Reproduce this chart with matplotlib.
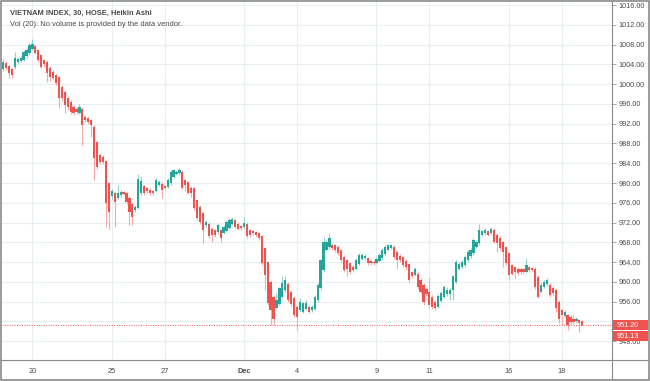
import matplotlib
matplotlib.use('Agg')
import matplotlib.pyplot as plt
import matplotlib.transforms as mtransforms
from matplotlib.lines import Line2D
from matplotlib.patches import Rectangle


# Heikin Ashi 30-minute bars, VN-Index, 19 Nov - 18 Dec
ha_open = [
    1003.0, 1004.2, 1003.6, 1003.0, 1003.4, 1004.4, 1004.7, 1004.9, 1005.6, 1006.2,
    1007.1, 1007.7, 1006.9, 1005.8, 1004.8, 1004.5, 1003.3, 1002.5, 1001.8, 1001.4,
    999.4, 998.4, 997.2, 996.4, 995.4, 995.0, 994.2, 995.0, 993.4, 993.1,
    992.7, 991.4, 988.2, 985.7, 985.3, 984.4, 980.0, 977.3, 978.0, 977.0,
    977.5, 978.1, 977.9, 977.0, 975.8, 974.5, 975.0, 978.0, 979.3, 978.9,
    978.6, 978.3, 978.4, 979.6, 979.9, 979.4, 979.2, 980.0, 981.3, 981.9,
    982.0, 982.3, 980.6, 980.2, 979.0, 978.9, 976.5, 975.2, 973.9, 971.5,
    971.8, 970.8, 970.5, 970.0, 970.5, 969.9, 970.3, 971.0, 971.8, 972.5,
    971.8, 971.3, 971.1, 971.8, 970.5, 970.2, 970.0, 969.8, 969.2, 966.8,
    964.0, 960.0, 957.0, 954.8, 955.6, 957.0, 958.3, 959.6, 958.0, 956.8,
    955.0, 954.3, 954.0, 954.6, 955.0, 954.3, 954.6, 956.3, 958.7, 962.4,
    966.5, 967.0, 967.5, 967.4, 967.1, 966.4, 965.1, 964.4, 963.8, 963.1,
    962.7, 963.7, 964.7, 964.8, 964.8, 964.3, 964.1, 963.9, 964.3, 964.8,
    965.6, 966.5, 966.9, 967.1, 966.1, 965.3, 965.0, 964.3, 963.6, 962.0,
    961.5, 961.7, 960.4, 959.4, 958.5, 958.0, 957.0, 956.0, 955.0, 956.2,
    957.0, 957.5, 957.6, 958.4, 960.0, 962.7, 963.0, 963.4, 964.4, 965.2,
    965.8, 967.1, 967.8, 969.5, 969.8, 970.2, 969.8, 970.5, 969.5, 968.9,
    968.0, 967.0, 965.8, 963.4, 963.0, 962.7, 962.6, 962.6, 962.1, 963.0,
    962.8, 962.7, 961.0, 958.0, 959.0, 959.5, 959.4, 958.8, 958.4, 956.0,
    954.3, 953.1, 953.3, 953.0, 952.5, 952.0, 952.3, 952.0,
]
ha_close = [
    1004.5, 1003.2, 1002.2, 1001.9, 1005.2, 1005.0, 1005.3, 1006.5, 1006.9, 1007.9,
    1008.2, 1006.3, 1004.9, 1003.5, 1004.1, 1002.2, 1001.5, 1001.2, 1000.2, 997.1,
    997.1, 995.8, 995.4, 994.4, 994.1, 994.4, 995.4, 991.7, 992.7, 992.4,
    991.7, 985.0, 983.3, 984.3, 984.3, 975.9, 974.2, 978.3, 976.2, 978.0,
    978.1, 977.8, 976.2, 974.2, 973.2, 975.1, 980.8, 980.5, 978.0, 978.3,
    977.9, 978.0, 980.6, 980.2, 978.6, 979.0, 980.6, 982.3, 982.6, 982.3,
    982.6, 979.0, 979.5, 978.0, 978.0, 974.9, 972.9, 972.2, 970.5, 972.2,
    969.2, 969.5, 969.5, 971.5, 968.8, 971.2, 972.2, 972.5, 972.7, 971.2,
    970.8, 970.9, 972.0, 969.2, 969.5, 969.8, 969.5, 968.8, 963.8, 961.4,
    955.7, 954.3, 952.6, 956.3, 958.7, 959.7, 960.4, 956.3, 955.6, 953.3,
    953.0, 956.0, 955.7, 955.7, 954.0, 955.0, 957.0, 959.4, 964.4, 968.1,
    968.1, 968.8, 966.8, 966.4, 965.8, 964.4, 962.4, 962.7, 962.1, 962.4,
    964.4, 965.4, 965.4, 965.3, 963.8, 963.8, 963.8, 964.6, 965.4, 966.5,
    967.1, 967.5, 967.4, 965.1, 964.4, 964.5, 963.4, 963.0, 960.4, 961.1,
    962.7, 959.0, 958.0, 956.0, 957.5, 955.3, 955.0, 954.7, 957.2, 957.7,
    959.0, 958.4, 958.4, 961.1, 964.0, 963.7, 964.1, 965.1, 966.1, 966.5,
    968.5, 968.1, 970.5, 970.2, 970.5, 969.5, 970.8, 968.1, 967.8, 966.8,
    966.1, 963.8, 961.4, 961.7, 962.1, 961.9, 962.0, 962.0, 963.4, 962.4,
    962.4, 959.0, 957.0, 959.4, 960.0, 960.4, 957.4, 957.7, 954.7, 952.6,
    953.3, 953.9, 951.3, 951.8, 951.9, 952.6, 951.6, 951.3,
]
ha_high = [
    1005.0, 1004.6, 1003.9, 1003.3, 1006.4, 1005.4, 1005.6, 1006.8, 1007.3, 1008.3,
    1009.1, 1008.0, 1007.2, 1006.1, 1005.1, 1004.8, 1003.6, 1002.8, 1002.1, 1001.7,
    999.8, 998.8, 997.5, 996.7, 995.7, 995.4, 995.9, 995.3, 993.7, 993.4,
    993.0, 991.7, 988.5, 986.0, 985.6, 984.7, 980.3, 978.8, 978.4, 979.6,
    978.5, 978.4, 978.2, 977.3, 976.1, 975.5, 981.9, 981.5, 979.6, 979.2,
    978.9, 978.6, 981.0, 980.6, 980.2, 979.7, 981.0, 982.7, 982.8, 982.6,
    983.0, 982.6, 980.9, 980.5, 979.3, 979.2, 976.8, 975.5, 974.2, 972.6,
    972.1, 971.1, 970.8, 971.9, 970.8, 971.6, 972.6, 972.9, 972.9, 972.8,
    972.1, 971.6, 973.1, 972.1, 970.8, 970.5, 970.3, 970.1, 969.5, 967.1,
    964.3, 960.3, 957.3, 957.7, 958.9, 961.1, 961.1, 959.9, 958.3, 957.1,
    955.3, 956.7, 956.0, 956.4, 955.3, 955.4, 957.4, 959.7, 964.7, 969.1,
    968.5, 969.7, 967.8, 967.7, 967.4, 966.7, 965.4, 964.7, 964.1, 963.4,
    964.8, 965.8, 965.8, 965.7, 965.1, 964.6, 964.4, 965.0, 965.8, 966.9,
    967.5, 967.7, 967.7, 967.4, 966.4, 965.6, 965.3, 964.6, 963.9, 962.3,
    963.1, 962.0, 960.7, 959.7, 958.8, 960.7, 957.3, 956.3, 957.6, 958.1,
    959.4, 959.0, 958.8, 961.5, 964.4, 964.1, 964.5, 965.5, 966.5, 966.9,
    968.9, 968.5, 971.8, 970.6, 970.9, 970.5, 971.2, 971.0, 969.8, 969.2,
    968.3, 967.3, 966.1, 963.7, 963.3, 963.0, 962.9, 962.9, 964.9, 963.3,
    963.1, 963.0, 961.3, 959.8, 960.4, 960.8, 959.7, 959.1, 958.7, 956.3,
    954.6, 954.3, 953.6, 953.3, 953.3, 953.0, 952.6, 952.3,
]
ha_low = [
    1002.6, 1002.9, 1001.2, 1001.2, 1003.0, 1004.1, 1004.4, 1004.6, 1005.3, 1005.9,
    1006.8, 1006.0, 1004.5, 1003.2, 1003.4, 1000.5, 1000.6, 1000.8, 999.8, 995.1,
    996.6, 994.1, 994.8, 994.0, 993.8, 994.0, 993.9, 987.7, 992.3, 992.0,
    989.4, 980.6, 982.8, 983.9, 983.9, 971.2, 970.8, 976.8, 971.2, 976.7,
    977.2, 977.5, 975.8, 971.5, 971.5, 974.1, 974.7, 977.6, 977.6, 977.9,
    977.5, 977.6, 978.1, 979.3, 976.9, 978.7, 978.9, 979.7, 981.0, 981.6,
    981.7, 978.7, 978.3, 977.7, 977.2, 974.5, 972.5, 971.8, 967.8, 971.2,
    968.8, 968.1, 969.1, 969.7, 968.0, 969.6, 970.0, 970.7, 971.5, 970.9,
    970.4, 970.6, 970.8, 968.8, 969.1, 969.5, 969.1, 968.4, 963.4, 958.4,
    955.3, 951.3, 951.3, 954.5, 955.3, 956.7, 958.0, 955.9, 955.2, 952.9,
    950.3, 954.0, 953.7, 954.3, 953.7, 954.0, 954.3, 956.0, 958.4, 962.1,
    966.2, 966.7, 966.4, 966.0, 965.4, 964.0, 962.0, 961.1, 961.7, 962.0,
    962.4, 963.4, 964.4, 964.5, 963.4, 963.4, 963.4, 963.6, 964.0, 964.5,
    965.3, 966.2, 966.6, 964.7, 962.7, 964.1, 963.0, 962.4, 960.0, 960.7,
    961.2, 958.6, 957.6, 955.3, 957.1, 954.9, 954.6, 954.3, 954.7, 955.9,
    956.7, 957.2, 956.3, 956.3, 959.7, 962.4, 962.7, 963.1, 964.1, 964.9,
    965.5, 966.8, 967.5, 969.2, 969.5, 969.2, 969.5, 967.8, 966.1, 966.4,
    963.1, 963.4, 960.4, 961.3, 960.7, 961.5, 961.7, 961.7, 961.8, 962.1,
    962.1, 958.6, 956.7, 957.7, 958.7, 959.2, 957.0, 957.3, 954.0, 951.6,
    951.3, 952.8, 950.3, 951.4, 951.5, 951.7, 949.9, 951.0,
]

# first bar of each labelled day
day_ticks = [10, 37, 55, 82, 100, 127, 145, 172, 190]
day_labels = ['20', '25', '27', 'Dec', '4', '9', '11', '16', '18']

price_ticks = list(range(948, 1017, 4))
last_price = 951.20
last_ha_close = 951.13

UP = '#26a69a'
DOWN = '#ef5350'
UP_WICK = '#93d2ca'
DOWN_WICK = '#f6a9a8'
TEXT = '#4a4a4a'
GRID = '#e9eef3'
FRAME = '#8a8a8a'

W, H = 650, 381
PX_PER_UNIT = 4.945      # vertical scale of the chart, pixels per index point


def main():
    plt.rcParams['font.family'] = ['Liberation Sans', 'DejaVu Sans']

    fig = plt.figure(figsize=(W / 100, H / 100), dpi=100)
    fig.patch.set_facecolor('white')

    # plot area in pixels: x 2..612, y 1..360 from top
    ax = fig.add_axes([2 / W, (H - 360) / H, 610 / W, 359 / H])
    ax.set_facecolor('white')

    for i in range(len(ha_open)):
        o, c = ha_open[i], ha_close[i]
        up = c >= o
        ax.vlines(i, ha_low[i], ha_high[i], color=UP_WICK if up else DOWN_WICK,
                  linewidth=0.8, zorder=2)
        bottom = min(o, c)
        height = max(abs(c - o), 0.15)
        ax.bar(i, height, bottom=bottom, width=0.75, color=UP if up else DOWN,
               linewidth=0, zorder=3)

    ax.set_xlim(-0.34, 207.1)
    ax.set_ylim(944.21, 1016.81)

    # grid
    for t in price_ticks:
        ax.axhline(t, color=GRID, linewidth=0.8, zorder=0)
    for t in day_ticks:
        ax.axvline(t, color=GRID, linewidth=0.8, zorder=0)

    # last price line
    ax.axhline(last_price, color=DOWN, linewidth=0.7, linestyle=(0, (1, 1.5)), zorder=4)

    for s in ax.spines.values():
        s.set_visible(False)

    # right price scale
    ax.yaxis.tick_right()
    ax.set_yticks(price_ticks)
    ax.set_yticklabels(['%.2f' % t for t in price_ticks])
    ax.tick_params(axis='y', length=3, width=0.6, color='#9a9a9a', pad=1.5,
                   labelsize=5.2, labelcolor=TEXT)
    # 952.00 sits under the last price boxes
    for lab in ax.get_yticklabels():
        if lab.get_text() == '952.00':
            lab.set_visible(False)

    # time scale
    ax.set_xticks(day_ticks)
    ax.set_xticklabels(day_labels)
    ax.tick_params(axis='x', length=0, pad=5.5, labelsize=5.3, labelcolor=TEXT)
    for lab in ax.get_xticklabels():
        if lab.get_text() == 'Dec':
            lab.set_fontweight('bold')

    # last price boxes on the scale (x 612..648 px, 10 px tall)
    trans = mtransforms.blended_transform_factory(ax.transAxes, ax.transData)
    box_w = 36 / 610
    box_h = 10 / PX_PER_UNIT
    centres = [last_price, last_price - 11 / PX_PER_UNIT]
    for yc, val in zip(centres, [last_price, last_ha_close]):
        ax.add_patch(Rectangle((1.0, yc - box_h / 2), box_w, box_h, transform=trans,
                               facecolor=DOWN, edgecolor='none', clip_on=False,
                               zorder=9))
        ax.text(1.0 + 5 / 610, yc, '%.2f' % val, transform=trans, ha='left',
                va='center', fontsize=5.2, color='white', clip_on=False, zorder=10)

    # header
    fig.text(10 / W, 1 - 13 / H, 'VIETNAM INDEX, 30, HOSE, Heikin Ashi',
             fontsize=5.4, fontweight='bold', color=TEXT, va='center')
    fig.text(10 / W, 1 - 24 / H, 'Vol (20): No volume is provided by the data vendor.',
             fontsize=5.4, color=TEXT, va='center')

    # separators and outer frame
    fig.add_artist(Line2D([612 / W, 612 / W], [2 / H, 1], color=FRAME, linewidth=0.8))
    fig.add_artist(Line2D([1 / W, 648 / W], [(H - 360) / H, (H - 360) / H],
                          color=FRAME, linewidth=0.8))
    fig.add_artist(Rectangle((0.6 / W, 1.5 / H), 648 / W, (H - 2) / H, fill=False,
                             edgecolor=FRAME, linewidth=1.2, transform=fig.transFigure))

    fig.savefig('out.png', dpi=100)


if __name__ == '__main__':
    main()
